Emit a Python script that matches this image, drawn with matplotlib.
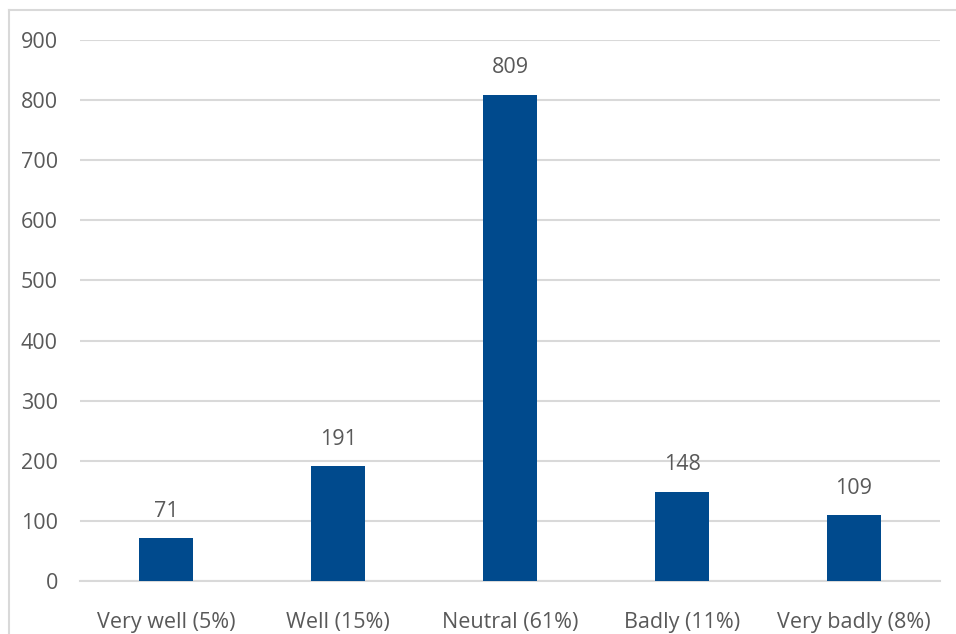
import matplotlib.pyplot as plt
from matplotlib.lines import Line2D

categories = ['Very well (5%)', 'Well (15%)', 'Neutral (61%)', 'Badly (11%)', 'Very badly (8%)']
counts = [71, 191, 809, 148, 109]
yticks = [0, 100, 200, 300, 400, 500, 600, 700, 800, 900]

bar_color = '#004A8D'
text_color = '#595959'
grid_color = '#D9D9D9'

plt.rcParams['font.family'] = ['Open Sans', 'DejaVu Sans']

W, H = 956, 634
fig = plt.figure(figsize=(W / 100, H / 100), dpi=100)
ax = fig.add_axes([80 / W, 1 - 581 / H, 860 / W, 541 / H])

x = list(range(len(categories)))
bars = ax.bar(x, counts, width=0.315, color=bar_color, zorder=3)

for rect, v in zip(bars, counts):
    ax.annotate(str(v), (rect.get_x() + rect.get_width() / 2, v),
                xytext=(0, 12), textcoords='offset points',
                ha='center', va='bottom', fontsize=15.5, color=text_color)

ax.set_xlim(-0.5, len(categories) - 0.5)
ax.set_ylim(0, 900)
ax.set_yticks(yticks)
ax.set_xticks(x)
ax.set_xticklabels(categories)
ax.yaxis.grid(True, color=grid_color, linewidth=1.5, zorder=0)
ax.tick_params(axis='both', length=0, labelsize=15.5, labelcolor=text_color)
ax.tick_params(axis='y', pad=16)
ax.tick_params(axis='x', pad=22)
for s in ['top', 'right', 'left']:
    ax.spines[s].set_visible(False)
ax.spines['bottom'].set_color(grid_color)
ax.spines['bottom'].set_linewidth(1.5)

# chart frame (top and left edges visible)
fig.add_artist(Line2D([8.5 / W, 955 / W], [1 - 10 / H, 1 - 10 / H], color=grid_color, linewidth=1.5))
fig.add_artist(Line2D([8.5 / W, 8.5 / W], [0, 1 - 10 / H], color=grid_color, linewidth=1.5))

fig.savefig('out.png', dpi=100)
